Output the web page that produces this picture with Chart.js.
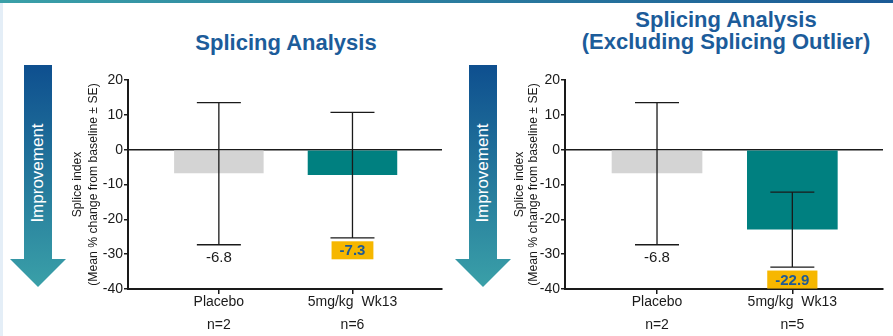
<!DOCTYPE html>
<html>
<head>
<meta charset="utf-8">
<script src="https://cdn.jsdelivr.net/npm/chart.js@4.4.1/dist/chart.umd.min.js"></script>
<style>
  body { margin: 0; width: 893px; height: 336px; overflow: hidden; background: #fff; position: relative; font-family: "Liberation Sans", Arial, sans-serif; }
  .topbar { position: absolute; left: 0; top: 0; width: 893px; height: 3px; background: linear-gradient(to right, #3aa0a8, #1b5a96); }
  .sidebar { position: absolute; left: 0; top: 3px; width: 3px; height: 333px; background: #e4eef7; }
  .arrow { position: absolute; top: 65px; width: 56px; height: 222px;
    background: linear-gradient(to bottom, #0e4f8f, #3aa0a8);
    clip-path: polygon(14px 0, 42px 0, 42px 194px, 56px 194px, 28px 222px, 0 194px, 14px 194px); }
  .arrowText { position: absolute; color: #fff; font-size: 17px; width: 120px; text-align: center;
    transform: translate(-50%, -50%) rotate(-90deg); white-space: nowrap; }
  .title { position: absolute; color: #1c5c9a; font-weight: bold; font-size: 22px; text-align: center; line-height: 22px; white-space: nowrap; transform: translateX(-50%); }
  canvas { position: absolute; top: 0; }
</style>
</head>
<body>
<div class="topbar"></div>
<div class="sidebar"></div>

<div class="arrow" style="left:10px"></div>
<div class="arrowText" style="left:38px; top:173px">Improvement</div>
<div class="arrow" style="left:455px"></div>
<div class="arrowText" style="left:483px; top:173px">Improvement</div>

<div class="title" style="left:286px; top:32px">Splicing Analysis</div>
<div class="title" style="left:726px; top:9px">Splicing Analysis<br>(Excluding Splicing Outlier)</div>

<canvas id="chartAll" width="385" height="336" style="left:60px"></canvas>
<canvas id="chartExcl" width="389" height="336" style="left:497px"></canvas>

<script>
// data
var categories = ['Placebo', '5mg/kg  Wk13'];
var yTicks = [20, 10, 0, -10, -20, -30, -40];
var yTitle = ['Splice index', '(Mean % change from baseline \u00b1 SE)'];
var highlightIndex = 1;

// all patients
var nAll = ['n=2', 'n=6'];
var meanAll = [-6.8, -7.3];
var seHighAll = [13.5, 10.7];
var seLowAll = [-27.3, -25.3];

// excluding the splicing outlier
var nExcl = ['n=2', 'n=5'];
var meanExcl = [-6.8, -22.9];
var seHighExcl = [13.5, -12.2];
var seLowExcl = [-27.3, -33.7];

var barColors = ['#d4d4d4', '#008080'];
var ink = '#1a1a1a';
var fontFamily = '"Liberation Sans", Arial, sans-serif';

// error bars + value labels
const errorBarPlugin = {
  id: 'errorBars',
  afterDatasetsDraw(chart) {
    const ctx = chart.ctx;
    const xs = chart.scales.x;
    const ys = chart.scales.y;
    const extra = chart.options.plugins.errorBars;
    ctx.save();
    ctx.strokeStyle = ink;
    ctx.lineWidth = 1.3;
    for (let i = 0; i < extra.high.length; i++) {
      const x = xs.getPixelForValue(i);
      const yHi = ys.getPixelForValue(extra.high[i]);
      const yLo = ys.getPixelForValue(extra.low[i]);
      ctx.beginPath();
      ctx.moveTo(x, yHi); ctx.lineTo(x, yLo);
      ctx.moveTo(x - 22, yHi); ctx.lineTo(x + 22, yHi);
      ctx.moveTo(x - 22, yLo); ctx.lineTo(x + 22, yLo);
      ctx.stroke();

      // value label under the lower cap
      const txt = extra.means[i].toFixed(1);
      const ly = yLo + 12.5;
      ctx.textAlign = 'center';
      ctx.textBaseline = 'middle';
      if (i === highlightIndex) {
        ctx.font = 'bold 15px ' + fontFamily;
        const w = ctx.measureText(txt).width + 16;
        ctx.fillStyle = '#f6b700';
        ctx.fillRect(x - w / 2, ly - 9, w, 18);
        ctx.fillStyle = '#1f5a94';
      } else {
        ctx.font = '15px ' + fontFamily;
        ctx.fillStyle = ink;
      }
      ctx.fillText(txt, x, ly + 1);
    }
    ctx.restore();
  }
};

function makeChart(canvasId, means, high, low, nLabels, titlePad, titleLine) {
  return new Chart(document.getElementById(canvasId), {
    type: 'bar',
    data: {
      datasets: [{
        data: means.map((v, i) => ({ x: i, y: v })),
        backgroundColor: barColors,
        barPercentage: 0.67,
        categoryPercentage: 1
      }]
    },
    options: {
      responsive: false,
      animation: false,
      layout: { padding: { top: 80, right: 3, left: 0, bottom: 0 } },
      plugins: {
        legend: { display: false },
        tooltip: { enabled: false },
        errorBars: { high: high, low: low, means: means }
      },
      scales: {
        x: {
          type: 'linear',
          min: -0.68,
          max: 1.67,
          offset: false,
          afterBuildTicks: (scale) => { scale.ticks = categories.map((c, i) => ({ value: i })); },
          afterFit: (scale) => { scale.height = 47; },
          border: { color: ink, width: 2 },
          grid: { offset: false, drawOnChartArea: false, color: ink, tickColor: ink, tickLength: 5, lineWidth: 1.5 },
          ticks: {
            callback: (v) => [categories[v], nLabels[v]],
            color: ink,
            padding: -3,
            maxRotation: 0,
            font: { family: fontFamily, size: 14, lineHeight: 1.64 }
          }
        },
        y: {
          min: -40,
          max: 20,
          z: 1,
          afterBuildTicks: (scale) => { scale.ticks = yTicks.map(v => ({ value: v })); },
          afterFit: (scale) => { scale.width = 68; },
          border: { color: ink, width: 2 },
          grid: {
            color: (c) => (c.tick && c.tick.value === 0 ? ink : 'rgba(0,0,0,0)'),
            tickColor: ink,
            tickLength: 4,
            lineWidth: 1.5
          },
          ticks: {
            color: ink,
            padding: 1,
            font: { family: fontFamily, size: 14 }
          },
          title: {
            display: true,
            text: yTitle,
            color: ink,
            padding: { top: titlePad, bottom: 0 },
            font: { family: fontFamily, size: 12.2, lineHeight: titleLine }
          }
        }
      }
    },
    plugins: [errorBarPlugin]
  });
}

makeChart('chartAll', meanAll, seHighAll, seLowAll, nAll, 9, 1.35);
makeChart('chartExcl', meanExcl, seHighExcl, seLowExcl, nExcl, 16, 1.14);
</script>
</body>
</html>
